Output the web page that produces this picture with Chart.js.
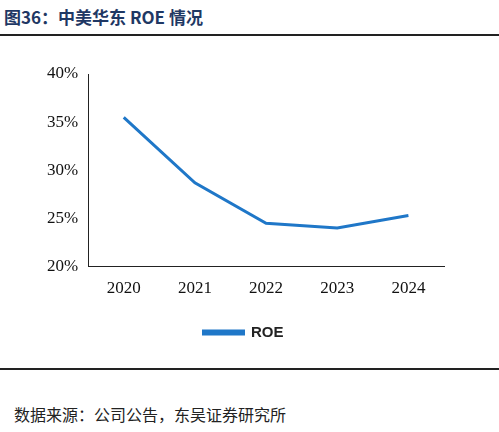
<!DOCTYPE html>
<html><head><meta charset="utf-8">
<script src="https://cdn.jsdelivr.net/npm/chart.js@4"></script>
<style>
body{margin:0;width:499px;height:432px;background:#fff;position:relative;overflow:hidden}
#t{position:absolute;left:4px;top:4px;font:bold 17px "Noto Sans CJK SC","Liberation Serif";color:#1f3864}
#l1{position:absolute;left:0;top:34px;width:499px;height:2px;background:#222}
#l2{position:absolute;left:0;top:368px;width:499px;height:2px;background:#222}
#s{position:absolute;left:14px;top:402px;font:16px "Noto Sans CJK SC";color:#222}
#c{position:absolute;left:0;top:50px}
</style></head><body>
<div id="t">图36：中美华东 ROE 情况</div><div id="l1"></div>
<canvas id="c" width="499" height="300"></canvas>
<div id="l2"></div><div id="s">数据来源：公司公告，东吴证券研究所</div>
<script>
const categories=["2020","2021","2022","2023","2024"];
const roe=[35.5,28.7,24.5,24.0,25.3];
const seriesName="ROE";
new Chart(document.getElementById('c'),{type:'line',
data:{labels:categories,datasets:[{label:seriesName,data:roe,borderColor:'#1f77c8',backgroundColor:'#1f77c8',borderWidth:3,pointRadius:0,tension:0}]},
options:{responsive:false,animation:false,
layout:{padding:{left:43,right:55,top:24}},
plugins:{legend:{position:'bottom',labels:{boxWidth:40,boxHeight:3,font:{family:'Liberation Sans',size:15,weight:'bold'},color:'#222',padding:14}}},
scales:{x:{offset:true,grid:{display:false,drawTicks:false},border:{color:'#222'},ticks:{padding:12,color:'#111',font:{family:'Liberation Serif',size:17}}},
y:{min:20,max:40,grid:{display:false,drawTicks:true,tickLength:6,tickColor:'#222'},border:{color:'#222'},ticks:{stepSize:5,padding:4,callback:v=>v+'%',color:'#111',font:{family:'Liberation Serif',size:17}}}}}});
</script></body></html>
